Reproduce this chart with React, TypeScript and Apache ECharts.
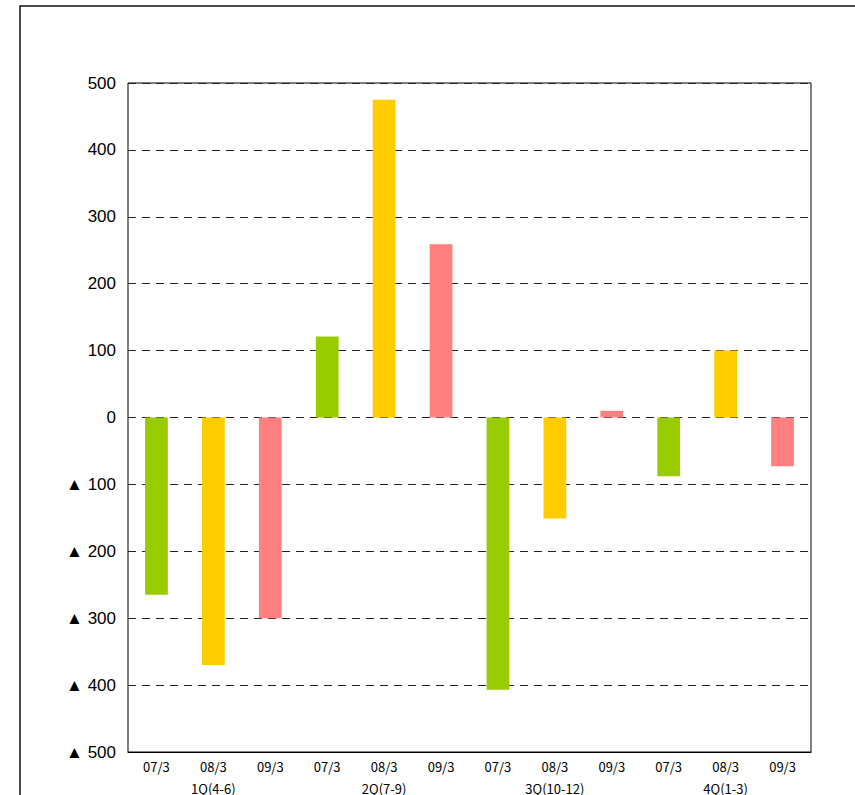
import React, { useEffect, useRef } from "react";
import * as echarts from "echarts";

// Fiscal-year labels repeated within each quarter
const years = ["07/3", "08/3", "09/3"];
const quarters = ["1Q(4-6)", "2Q(7-9)", "3Q(10-12)", "4Q(1-3)"];

// Values per quarter, in year order (07/3, 08/3, 09/3)
const q1Values = [-265, -370, -300];
const q2Values = [121, 475, 259];
const q3Values = [-407, -151, 10];
const q4Values = [-88, 100, -73];

const yearColors = ["#99CC00", "#FFCC00", "#FF8080"];

export default function App() {
  const ref = useRef<HTMLDivElement>(null);

  useEffect(() => {
    if (!ref.current) return;
    const chart = echarts.init(ref.current, undefined, { renderer: "svg" });

    const categories: string[] = [];
    const data: any[] = [];
    [q1Values, q2Values, q3Values, q4Values].forEach((vals) => {
      vals.forEach((v, i) => {
        categories.push(years[i]);
        data.push({ value: v, itemStyle: { color: yearColors[i] } });
      });
    });

    const labelFont = '"Liberation Sans Narrow", "Arial Narrow", "Liberation Sans", sans-serif';

    chart.setOption({
      animation: false,
      backgroundColor: "#fff",
      graphic: [
        {
          type: "rect",
          shape: { x: 20, y: 6, width: 900, height: 900 },
          style: { fill: "none", stroke: "#111", lineWidth: 1.5 },
          silent: true,
        },
      ],
      grid: {
        left: 128,
        top: 83,
        right: 44,
        bottom: 43,
        show: true,
        borderColor: "#000",
        borderWidth: 1,
        backgroundColor: "transparent",
      },
      xAxis: [
        {
          type: "category",
          data: categories,
          position: "bottom",
          axisLine: { show: true, onZero: false, lineStyle: { color: "#000" } },
          axisTick: { show: false },
          axisLabel: {
            color: "#000",
            fontSize: 13,
            fontFamily: '"Noto Sans CJK JP", sans-serif',
            margin: 8,
            interval: 0,
          },
        },
        {
          type: "category",
          data: quarters,
          position: "bottom",
          offset: 22,
          axisLine: { show: false },
          axisTick: { show: false },
          axisLabel: {
            color: "#000",
            fontSize: 13,
            fontFamily: '"Noto Sans CJK JP", sans-serif',
            margin: 8,
            interval: 0,
          },
        },
      ],
      yAxis: {
        type: "value",
        min: -500,
        max: 500,
        interval: 100,
        axisLine: { show: false },
        axisTick: { show: false },
        axisLabel: {
          color: "#000",
          fontSize: 17,
          fontFamily: labelFont,
          margin: 12,
          formatter: (v: number) => (v < 0 ? "▲ " + -v : String(v)),
        },
        splitLine: {
          show: true,
          lineStyle: { color: "#222", type: [8, 6], width: 1 },
        },
      },
      series: [
        {
          type: "bar",
          xAxisIndex: 0,
          data,
          barWidth: "40%",
        },
      ],
    });

    return () => chart.dispose();
  }, []);

  return (
    <div
      ref={ref}
      style={{ position: "fixed", left: 0, top: 0, width: 855, height: 795 }}
    />
  );
}
